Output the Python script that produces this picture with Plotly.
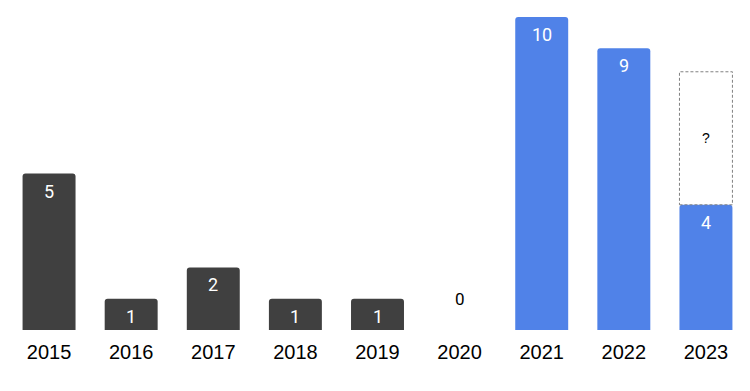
import plotly.graph_objects as go

years = ["2015", "2016", "2017", "2018", "2019", "2020", "2021", "2022", "2023"]
values = [5, 1, 2, 1, 1, 0, 10, 9, 4]
colors = ["#404040"] * 6 + ["#5082E8"] * 3
projected_year = "2023"
projected_value = 8.25
projected_label = "?"

BAR_W = 0.645
xs = list(range(len(years)))

fig = go.Figure()
fig.add_trace(go.Bar(
    x=xs, y=values,
    marker=dict(color=colors, line=dict(width=0), cornerradius=3),
    width=BAR_W,
    hoverinfo="skip",
))

# value labels
for i, v in enumerate(values):
    if v > 0:
        fig.add_annotation(x=xs[i], y=v, text=str(v), showarrow=False,
                           yanchor="top", yshift=-5,
                           font=dict(color="white", size=18, family="Roboto"))
    else:
        fig.add_annotation(x=xs[i], y=v, text=str(v), showarrow=False,
                           yanchor="bottom", yshift=19,
                           font=dict(color="black", size=17, family="Roboto"))

# projected dashed box
pi = years.index(projected_year)
base_val = values[pi]
fig.add_shape(type="rect", xref="x", yref="y",
              x0=pi - BAR_W / 2, x1=pi + BAR_W / 2,
              y0=base_val, y1=projected_value,
              line=dict(color="#808080", width=1, dash="3px,2px"),
              fillcolor="rgba(0,0,0,0)", layer="above")
fig.add_annotation(x=pi, y=(base_val + projected_value) / 2,
                   text=projected_label, showarrow=False,
                   font=dict(color="black", size=14, family="Liberation Sans"))

fig.update_layout(
    width=739, height=383,
    margin=dict(l=0, r=0, t=9, b=61),
    paper_bgcolor="white", plot_bgcolor="white",
    showlegend=False,
    xaxis=dict(range=[-0.5, len(years) - 0.5], tickmode="array", tickvals=xs,
               ticktext=years, showgrid=False, zeroline=False, showline=False,
               ticks="", ticklabelstandoff=8,
               tickfont=dict(size=20, color="black", family="Liberation Sans")),
    yaxis=dict(range=[0, 10], visible=False, showgrid=False, zeroline=False),
)

fig.write_html("out.html")
